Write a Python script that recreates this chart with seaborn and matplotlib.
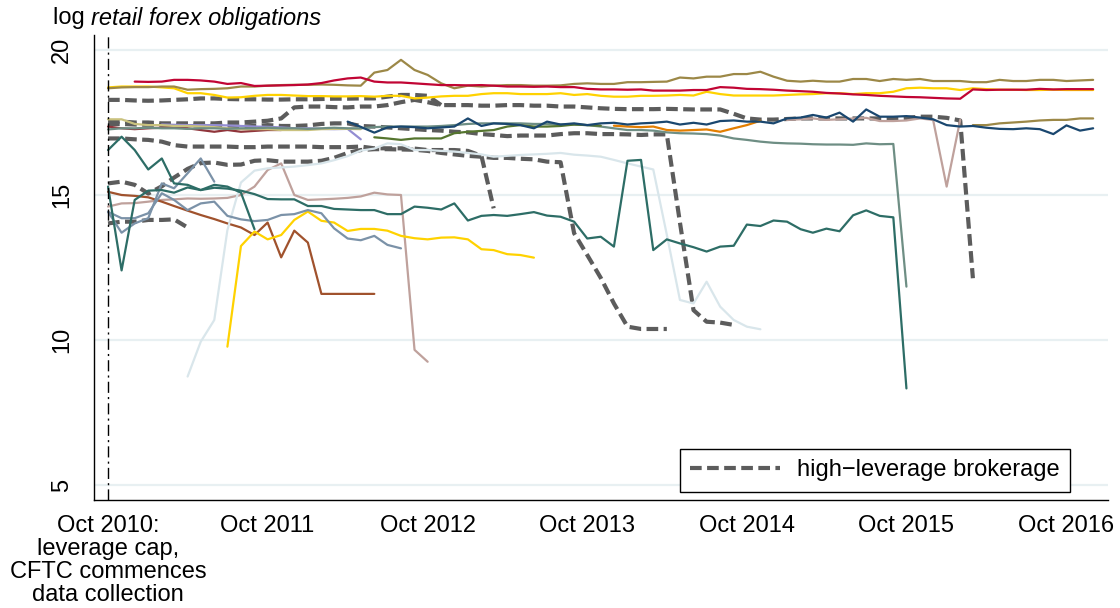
import pandas as pd
import matplotlib
matplotlib.use("Agg")
import matplotlib.pyplot as plt
import seaborn as sns
from matplotlib.lines import Line2D

sns.set_style("white")
plt.rcParams["font.family"] = ["Liberation Sans", "DejaVu Sans"]
plt.rcParams["text.color"] = "black"
plt.rcParams["xtick.color"] = "black"
plt.rcParams["ytick.color"] = "black"

# ---- data: log retail forex obligations, monthly, month 0 = Oct 2010 ----
# each series: first month index, then the monthly values

# high-leverage brokerages (dashed)
hl1_start = 0
hl1 = [18.28, 18.28, 18.26, 18.25, 18.26, 18.28, 18.30, 18.33, 18.33, 18.31,
       18.30, 18.30, 18.29, 18.29, 18.30, 18.30, 18.31, 18.32, 18.32, 18.33,
       18.33, 18.39, 18.45, 18.45, 18.42, 18.10]
hl2_start = 0
hl2 = [17.53, 17.53, 17.50, 17.50, 17.47, 17.47, 17.47, 17.47, 17.47, 17.50,
       17.50, 17.53, 17.56, 17.64, 18.02, 18.05, 18.05, 18.03, 18.02, 18.05,
       18.05, 18.10, 18.20, 18.28, 18.20, 18.10, 18.10, 18.10, 18.08, 18.08,
       18.10, 18.10, 18.08, 18.08, 18.05, 18.05, 18.02, 17.99, 17.97, 17.96,
       17.96, 17.96, 17.97, 17.96, 17.95, 17.95, 17.95, 17.80, 17.64, 17.60,
       17.60, 17.62, 17.64, 17.64, 17.64, 17.64, 17.64, 17.64, 17.64, 17.64,
       17.66, 17.70, 17.70, 17.66, 17.57, 12.13]
hl3_start = 0
hl3 = [17.45, 17.45, 17.43, 17.42, 17.42, 17.42, 17.40, 17.40, 17.40, 17.38,
       17.36, 17.38, 17.41, 17.38, 17.38, 17.40, 17.45, 17.47, 17.47, 17.38,
       17.36, 17.33, 17.30, 17.27, 17.24, 17.22, 17.18, 17.16, 17.10, 17.07,
       17.03, 17.05, 17.05, 17.05, 17.10, 17.13, 17.13, 17.10, 17.10, 17.09,
       17.07, 17.09, 17.09, 14.05, 11.03, 10.63, 10.60, 10.52]
hl4_start = 0
hl4 = [16.95, 16.95, 16.92, 16.90, 16.84, 16.72, 16.67, 16.67, 16.67, 16.67,
       16.65, 16.65, 16.67, 16.67, 16.67, 16.67, 16.65, 16.65, 16.65, 16.67,
       16.61, 16.61, 16.61, 16.60, 16.55, 16.55, 16.55, 16.52, 16.35, 14.54]
hl5_start = 0
hl5 = [15.40, 15.46, 15.35, 15.05, 15.30, 15.60, 15.90, 16.10, 16.12, 16.04,
       16.05, 16.18, 16.20, 16.15, 16.15, 16.15, 16.18, 16.28, 16.45, 16.55,
       16.58, 16.58, 16.57, 16.56, 16.52, 16.45, 16.40, 16.35, 16.32, 16.28,
       16.28, 16.25, 16.23, 16.15, 16.13, 13.68, 12.93, 12.14, 11.26, 10.46,
       10.38, 10.38, 10.38]
hl6_start = 0
hl6 = [14.02, 14.08, 14.08, 14.14, 14.14, 14.16, 13.88]

# other brokerages (solid)
f01_start = 2
f01 = [18.91, 18.90, 18.91, 18.97, 18.97, 18.95, 18.91, 18.83, 18.86, 18.76,
       18.77, 18.78, 18.79, 18.81, 18.86, 18.95, 19.02, 19.05, 18.91, 18.88,
       18.88, 18.85, 18.82, 18.79, 18.79, 18.78, 18.79, 18.77, 18.74, 18.74,
       18.73, 18.74, 18.72, 18.72, 18.66, 18.64, 18.64, 18.63, 18.64, 18.60,
       18.60, 18.60, 18.62, 18.62, 18.72, 18.70, 18.66, 18.65, 18.63, 18.60,
       18.58, 18.56, 18.52, 18.50, 18.47, 18.45, 18.42, 18.40, 18.38, 18.37,
       18.35, 18.33, 18.32, 18.64, 18.62, 18.63, 18.63, 18.63, 18.66, 18.64,
       18.65, 18.65, 18.65]
f02_start = 0
f02 = [18.68, 18.71, 18.72, 18.72, 18.74, 18.74, 18.63, 18.65, 18.66, 18.68,
       18.74, 18.74, 18.77, 18.79, 18.80, 18.80, 18.81, 18.80, 18.78, 18.77,
       19.22, 19.31, 19.66, 19.31, 19.14, 18.85, 18.68, 18.77, 18.74, 18.77,
       18.79, 18.79, 18.77, 18.77, 18.78, 18.83, 18.85, 18.83, 18.83, 18.89,
       18.89, 18.90, 18.91, 19.05, 19.02, 19.08, 19.08, 19.17, 19.17, 19.25,
       19.08, 18.94, 18.91, 18.94, 18.91, 18.91, 19.00, 19.00, 18.93, 19.00,
       18.97, 19.00, 18.93, 18.93, 18.93, 18.89, 18.89, 18.97, 18.93, 18.93,
       18.97, 18.97, 18.93, 18.95, 18.97]
f03_start = 0
f03 = [18.71, 18.74, 18.74, 18.74, 18.71, 18.68, 18.51, 18.51, 18.45, 18.36,
       18.37, 18.42, 18.45, 18.45, 18.43, 18.41, 18.41, 18.40, 18.40, 18.41,
       18.39, 18.42, 18.42, 18.33, 18.36, 18.40, 18.42, 18.42, 18.48, 18.51,
       18.51, 18.48, 18.48, 18.48, 18.51, 18.45, 18.48, 18.42, 18.39, 18.39,
       18.42, 18.42, 18.43, 18.45, 18.43, 18.56, 18.48, 18.43, 18.43, 18.43,
       18.43, 18.45, 18.47, 18.48, 18.51, 18.51, 18.48, 18.51, 18.51, 18.56,
       18.68, 18.70, 18.68, 18.68, 18.62, 18.68, 18.65, 18.63, 18.63, 18.62,
       18.62, 18.63, 18.62, 18.62, 18.62]
f04_start = 18
f04 = [17.53, 17.35, 17.15, 17.33, 17.36, 17.34, 17.30, 17.33, 17.36, 17.64,
       17.38, 17.47, 17.45, 17.41, 17.30, 17.53, 17.43, 17.47, 17.41, 17.47,
       17.49, 17.43, 17.47, 17.49, 17.53, 17.43, 17.49, 17.43, 17.55, 17.57,
       17.53, 17.53, 17.47, 17.64, 17.67, 17.76, 17.67, 17.84, 17.53, 17.95,
       17.70, 17.70, 17.72, 17.67, 17.61, 17.41, 17.36, 17.38, 17.32, 17.28,
       17.27, 17.30, 17.27, 17.10, 17.40, 17.22, 17.30]
f05_start = 65
f05 = [17.41, 17.41, 17.47, 17.50, 17.53, 17.57, 17.59, 17.59, 17.64, 17.64]
f06_start = 51
f06 = [17.59, 17.61, 17.64, 17.59, 17.61, 17.64, 17.66, 17.55, 17.55, 17.57,
       17.64, 17.59, 15.29, 17.59]
f07_start = 0
f07 = [17.26, 17.30, 17.30, 17.32, 17.30, 17.30, 17.28, 17.30, 17.30, 17.28,
       17.30, 17.30, 17.32, 17.30, 17.30, 17.28, 17.30, 17.32, 17.30, 17.30,
       17.34, 17.36, 17.36, 17.36, 17.36, 17.38, 17.41, 17.45, 17.47, 17.47,
       17.47, 17.47, 17.45, 17.45, 17.43, 17.43, 17.41, 17.36, 17.30, 17.24,
       17.24, 17.22, 17.16, 17.13, 17.12, 17.10, 17.05, 16.95, 16.90, 16.84,
       16.80, 16.78, 16.77, 16.75, 16.74, 16.74, 16.73, 16.78, 16.75, 16.76,
       11.84]
f08_start = 0
f08 = [17.61, 17.61, 17.45, 17.41, 17.41, 17.38, 17.38, 17.36, 17.34, 17.30,
       17.27, 17.27, 17.27, 17.24, 17.24, 17.24, 17.27, 17.28, 17.28, 17.27]
f09_start = 0
f09 = [17.36, 17.30, 17.27, 17.30, 17.32, 17.34, 17.30, 17.24, 17.18, 17.24,
       17.18, 17.21, 17.24, 17.24]
f10_start = 4
f10 = [17.43, 17.42, 17.41, 17.41, 17.41, 17.40, 17.38, 17.36, 17.35, 17.33,
       17.30, 17.30, 17.28, 17.27, 17.28, 16.92]
f11_start = 20
f11 = [16.99, 16.95, 16.90, 16.95, 16.95, 16.95, 17.13, 17.18, 17.21, 17.24,
       17.36, 17.41, 17.36, 17.36, 17.38, 17.43, 17.41, 17.39]
f12_start = 38
f12 = [17.39, 17.36, 17.34, 17.36, 17.24, 17.22, 17.24, 17.26, 17.18, 17.30,
       17.41, 17.56]
f13_start = 0
f13 = [15.29, 12.40, 14.83, 15.15, 15.17, 15.08, 15.26, 15.17, 15.25, 15.22,
       15.15, 15.03, 14.86, 14.85, 14.85, 14.62, 14.62, 14.52, 14.50, 14.48,
       14.48, 14.34, 14.34, 14.60, 14.56, 14.50, 14.71, 14.12, 14.28, 14.31,
       14.28, 14.34, 14.41, 14.29, 14.25, 14.08, 13.50, 13.56, 13.22, 16.18,
       16.21, 13.10, 13.47, 13.33, 13.20, 13.05, 13.22, 13.25, 13.98, 13.93,
       14.12, 14.08, 13.82, 13.70, 13.84, 13.75, 14.30, 14.47, 14.28, 14.23,
       8.33]
f14_start = 0
f14 = [16.55, 17.01, 16.55, 15.88, 16.26, 15.40, 15.35, 15.17, 15.35, 15.29,
       15.08, 13.82]
f15_start = 0
f15 = [14.42, 14.20, 14.20, 14.37, 15.06, 14.83, 14.48, 14.71, 14.77, 14.28,
       14.16, 14.10, 14.14, 14.31, 14.34, 14.48, 14.37, 13.85, 13.50, 13.44,
       13.59, 13.28, 13.16]
f16_start = 0
f16 = [14.42, 13.70, 14.02, 14.20, 15.40, 15.23, 15.75, 16.26, 15.46]
f17_start = 6
f17 = [8.74, 9.94, 10.69, 13.79, 15.43, 15.84, 15.92, 15.95, 15.98, 16.03,
       16.09, 16.20, 16.34, 16.53, 16.60, 16.78, 16.75, 16.55, 16.55, 16.52,
       16.50, 16.45, 16.40, 16.32, 16.35, 16.38, 16.40, 16.42, 16.45, 16.39,
       16.36, 16.32, 16.21, 16.09, 15.98, 15.88, 13.63, 11.38, 11.26, 12.01,
       11.15, 10.69, 10.46, 10.37]
f18_start = 9
f18 = [9.77, 13.24, 13.74, 13.47, 13.62, 14.14, 14.43, 14.11, 14.05, 13.76,
       13.83, 13.83, 13.77, 13.59, 13.51, 13.47, 13.53, 13.54, 13.47, 13.13,
       13.10, 12.96, 12.93, 12.84]
f19_start = 0
f19 = [15.11, 15.00, 14.97, 14.92, 14.77, 14.62, 14.46, 14.31, 14.17, 14.02,
       13.88, 13.62, 14.05, 12.85, 13.77, 13.36, 11.59, 11.59, 11.59, 11.59,
       11.59]
f20_start = 0
f20 = [14.60, 14.71, 14.72, 14.77, 14.83, 14.85, 14.88, 14.87, 14.88, 14.90,
       15.00, 15.29, 15.86, 16.09, 15.00, 14.83, 14.85, 14.87, 14.90, 14.95,
       15.08, 15.02, 15.00, 9.66, 9.25]

tick_labels = ["Oct 2010:\nleverage cap,\nCFTC commences\ndata collection",
               "Oct 2011", "Oct 2012", "Oct 2013", "Oct 2014", "Oct 2015", "Oct 2016"]
legend_label = "high\u2212leverage brokerage"

# Stata s2color-style colours per firm
palette = {
    "f01": "#c10534", "f02": "#9c8847", "f03": "#ffd200", "f04": "#1a476f",
    "f05": "#9c8847", "f06": "#bfa19c", "f07": "#6e8e84", "f08": "#cac27e",
    "f09": "#90353b", "f10": "#938dd2", "f11": "#55752f", "f12": "#e37e00",
    "f13": "#2d6d66", "f14": "#2d6d66", "f15": "#7b92a8", "f16": "#7b92a8",
    "f17": "#d9e6eb", "f18": "#ffd200", "f19": "#a0522d", "f20": "#bfa19c",
}

origin = pd.Timestamp("2010-10-01")


def to_frame(name, first, values):
    dates = pd.date_range(origin + pd.DateOffset(months=first), periods=len(values), freq="MS")
    return pd.DataFrame({"date": dates, "value": values, "firm": name})


hl_df = pd.concat([
    to_frame("hl1", hl1_start, hl1), to_frame("hl2", hl2_start, hl2),
    to_frame("hl3", hl3_start, hl3), to_frame("hl4", hl4_start, hl4),
    to_frame("hl5", hl5_start, hl5), to_frame("hl6", hl6_start, hl6),
], ignore_index=True)

solid_df = pd.concat([
    to_frame("f20", f20_start, f20), to_frame("f19", f19_start, f19),
    to_frame("f18", f18_start, f18), to_frame("f17", f17_start, f17),
    to_frame("f16", f16_start, f16), to_frame("f15", f15_start, f15),
    to_frame("f14", f14_start, f14), to_frame("f13", f13_start, f13),
    to_frame("f09", f09_start, f09), to_frame("f10", f10_start, f10),
    to_frame("f08", f08_start, f08), to_frame("f07", f07_start, f07),
    to_frame("f11", f11_start, f11), to_frame("f12", f12_start, f12),
    to_frame("f06", f06_start, f06), to_frame("f05", f05_start, f05),
    to_frame("f04", f04_start, f04), to_frame("f03", f03_start, f03),
    to_frame("f02", f02_start, f02), to_frame("f01", f01_start, f01),
], ignore_index=True)

# ---- plot ----
fig = plt.figure(figsize=(11.2, 6.08), dpi=100)
ax = fig.add_axes([93.6 / 1120, 1 - 500 / 608, (1108 - 93.6) / 1120, 465 / 608])

ax.set_yticks([5, 10, 15, 20])
ax.yaxis.grid(True, color="#e8f0f2", linewidth=1.6)
ax.xaxis.grid(False)
ax.set_axisbelow(True)

hl_style = dict(color="#5c5c5c", linewidth=3.0, linestyle=(0, (2.8, 1.3)))
sns.lineplot(data=hl_df, x="date", y="value", units="firm", estimator=None,
             ax=ax, legend=False, **hl_style)
sns.lineplot(data=solid_df, x="date", y="value", hue="firm", palette=palette,
             estimator=None, linewidth=1.6, ax=ax, legend=False)

ax.axvline(origin, color="black", linewidth=1.0, linestyle=(0, (8, 3, 1.5, 3)))

ax.set_ylim(4.483, 20.517)
ax.set_xlim(origin - pd.Timedelta(days=33), origin + pd.Timedelta(days=2287))
ticks = pd.date_range("2010-10-01", periods=7, freq="12MS")
ax.set_xticks(ticks)
ax.set_xticklabels(tick_labels, fontsize=17, linespacing=1.05)
ax.tick_params(axis="y", labelsize=17, labelrotation=90, length=7, width=1, pad=8)
ax.tick_params(axis="x", length=7, width=1, pad=4)
for lab in ax.get_yticklabels():
    lab.set_va("center")
ax.set_xlabel("")
ax.set_ylabel("")

sns.despine(ax=ax)
for side in ["left", "bottom"]:
    ax.spines[side].set_color("black")
    ax.spines[side].set_linewidth(1.0)

handle = Line2D([], [], **hl_style)
leg = ax.legend([handle], [legend_label], loc="lower right",
                bbox_to_anchor=(0.9625, 0.0172), borderaxespad=0, fontsize=17,
                handlelength=3.8, handletextpad=0.7, borderpad=0.45,
                frameon=True, fancybox=False, framealpha=1)
leg.get_frame().set_edgecolor("black")
leg.get_frame().set_linewidth(1.0)

# title: "log" upright, the rest italic
t1 = fig.text(53 / 1120, 1 - 18 / 608, "log ", fontsize=17, va="center", ha="left")
fig.canvas.draw()
bb = t1.get_window_extent()
fig.text(bb.x1 / 1120, 1 - 18 / 608, "retail forex obligations", fontsize=17,
         style="italic", va="center", ha="left")

fig.savefig("out.png", dpi=100)
